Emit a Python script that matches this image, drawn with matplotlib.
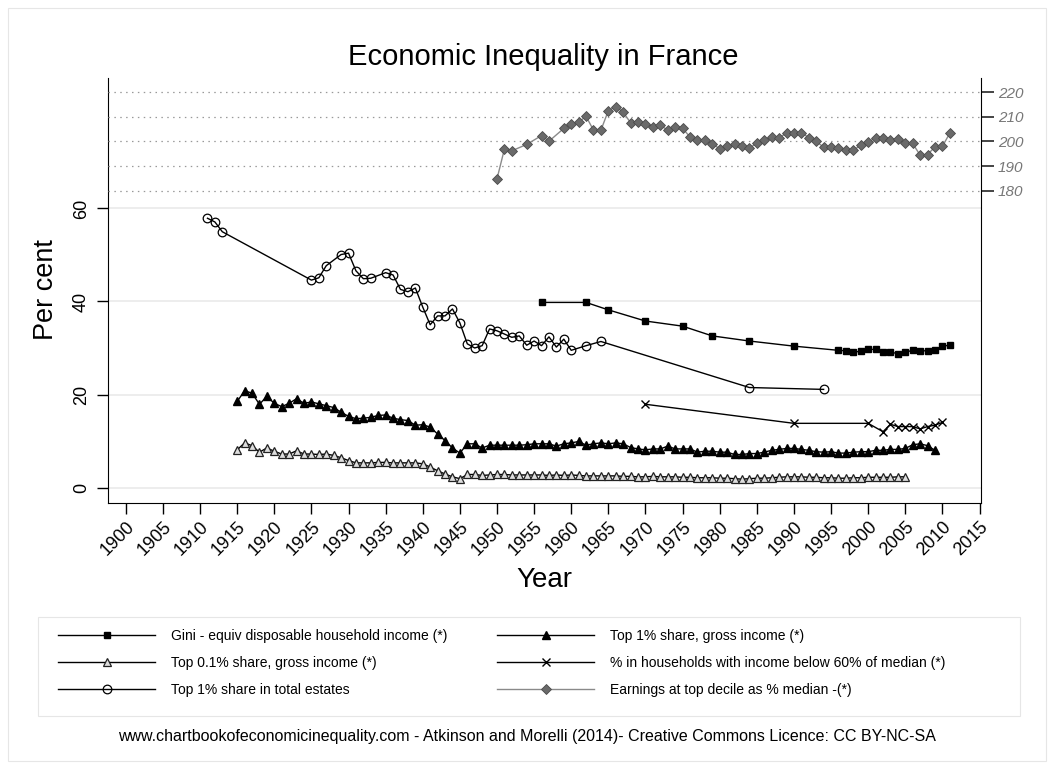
import matplotlib
matplotlib.use('Agg')
import matplotlib.pyplot as plt
from matplotlib.lines import Line2D
from matplotlib.patches import Rectangle

plt.rcParams['font.family'] = ['Liberation Sans', 'DejaVu Sans']

# data
gini_years = [1956, 1962, 1965, 1970, 1975, 1979, 1984, 1990] + list(range(1996, 2012))
gini = [39.8, 39.8, 38.2, 35.8, 34.7, 32.6, 31.5, 30.4,
        29.5, 29.4, 29.1, 29.3, 29.7, 29.7, 29.1, 29.1, 28.8, 29.1, 29.5, 29.4, 29.4, 29.5, 30.4, 30.6]

top1_years = list(range(1915, 2010))
top1 = [18.5, 20.8, 20.3, 17.9, 19.6, 18.1, 17.4, 18.1, 19.1, 18.1, 18.4, 18.0, 17.6, 17.2, 16.2,
        15.3, 14.8, 14.9, 15.1, 15.5, 15.6, 14.9, 14.6, 14.4, 13.4, 13.5, 13.0, 11.5, 10.1, 8.5,
        7.4, 9.4, 9.4,
        8.5, 9.1, 9.1, 9.1, 9.1, 9.1, 9.2, 9.4, 9.4, 9.4, 8.9, 9.4, 9.6, 9.9, 9.1, 9.4, 9.6, 9.4,
        9.6, 9.4, 8.6, 8.3, 8.1, 8.3, 8.3, 8.9, 8.3, 8.3, 8.3, 7.6, 7.8, 7.8, 7.6, 7.6, 7.1, 7.1,
        7.3, 7.3,
        7.6, 8.0, 8.2, 8.4, 8.4, 8.2, 8.0, 7.7, 7.6, 7.7, 7.4, 7.4, 7.6, 7.7, 7.7, 8.0, 8.0, 8.2,
        8.2, 8.4, 9.2, 9.4, 9.0, 8.0]

top01_years = list(range(1915, 2006))
top01 = [8.1, 9.6, 9.0, 7.6, 8.5, 7.8, 7.2, 7.2, 7.9, 7.2, 7.2, 7.1, 7.2, 6.9, 6.4, 5.8, 5.3,
         5.3, 5.3, 5.4, 5.4, 5.3, 5.3, 5.3, 5.3, 5.1, 4.4, 3.6, 2.9, 2.3, 1.9, 2.8, 2.8,
         2.6, 2.7, 2.8, 2.8, 2.7, 2.7, 2.7, 2.7, 2.7, 2.6, 2.7, 2.6, 2.7,
         2.6, 2.5, 2.5, 2.5, 2.5, 2.5, 2.4, 2.4, 2.3, 2.3, 2.4, 2.3, 2.3, 2.3, 2.2,
         2.2, 2.1, 2.1, 2.1, 2.0, 2.0, 1.9, 1.8, 1.9, 2.0,
         2.0, 2.1, 2.2, 2.3, 2.3, 2.3, 2.2, 2.2, 2.1, 2.1, 2.0, 2.0, 2.1, 2.1, 2.2, 2.2, 2.2,
         2.2, 2.3, 2.3]

pov_years = [1970, 1990, 2000, 2002, 2003, 2004, 2005, 2006, 2007, 2008, 2009, 2010]
pov = [17.9, 13.8, 13.8, 12.0, 13.6, 13.1, 13.1, 13.1, 12.6, 13.1, 13.4, 14.0]

estate_years = [1911, 1912, 1913, 1925, 1926, 1927, 1929, 1930, 1931, 1932, 1933, 1935, 1936,
                1937, 1938, 1939, 1940, 1941, 1942, 1943, 1944, 1945, 1946, 1947, 1948, 1949,
                1950, 1951, 1952, 1953, 1954, 1955, 1956, 1957, 1958, 1959, 1960, 1962, 1964,
                1984, 1994]
estate = [57.9, 57.1, 55.0, 44.6, 45.1, 47.7, 50.1, 50.4, 46.6, 44.9, 45.0, 46.2, 45.7,
          42.6, 42.1, 42.9, 38.8, 35.0, 36.9, 36.9, 38.4, 35.4, 30.9, 30.0, 30.5, 34.1,
          33.7, 33.0, 32.3, 32.6, 30.6, 31.5, 30.5, 32.4, 30.2, 31.9, 29.5, 30.5, 31.4,
          21.5, 21.1]

earn_years = [1950, 1951, 1952, 1954, 1956, 1957] + list(range(1959, 2012))
earn = [184.8, 196.9, 196.2, 198.8, 202.4, 200.1,
        205.3, 207.1, 207.9, 210.2, 204.6, 204.6, 212.5, 214.2, 211.9, 207.6, 208.1, 207.3,
        206.0, 206.6, 204.6, 205.8, 205.4, 201.8, 200.5, 200.7, 198.9, 197.1,
        198.0, 198.9, 198.2, 197.4, 199.2, 200.4, 201.8, 201.6, 203.3, 203.4, 203.5, 201.6,
        200.0, 197.7, 197.7, 197.3, 196.5, 196.5, 198.4, 199.6, 201.6, 201.6, 200.7, 201.1,
        199.2, 199.2, 194.4, 194.7, 197.8, 198.0, 203.4]

labels = ['Gini - equiv disposable household income (*)',
          'Top 1% share, gross income (*)',
          'Top 0.1% share, gross income (*)',
          '% in households with income below 60% of median (*)',
          'Top 1% share in total estates',
          'Earnings at top decile as % median -(*)']

W, H = 1054, 769
fig = plt.figure(figsize=(W / 100, H / 100), dpi=100)
fig.patches.append(Rectangle((8 / W, 8 / H), 1 - 16 / W, 1 - 16 / H, transform=fig.transFigure,
                             fill=False, edgecolor='#e6e6e6', lw=0.8))
# legend box
fig.patches.append(Rectangle((38 / W, 1 - 716 / H), (1020 - 38) / W, (716 - 617) / H,
                             transform=fig.transFigure, fill=False, edgecolor='#e6e6e6', lw=0.8))

ax = fig.add_axes([108 / W, 1 - 503 / H, (981 - 108) / W, (503 - 78) / H])
ax2 = ax.twinx()

st = dict(lw=1.0, color='black')
s_gini = dict(marker='s', ms=4.6, mfc='black', mec='black', **st)
s_top1 = dict(marker='^', ms=5.6, mfc='black', mec='black', **st)
s_top01 = dict(marker='^', ms=5.6, mfc='#dddddd', mec='#222222', mew=0.9, **st)
s_pov = dict(marker='x', ms=6, mec='black', mew=1.0, **st)
s_est = dict(marker='o', ms=6.2, mfc='none', mec='black', mew=0.9, **st)
s_earn = dict(marker='D', ms=5.2, mfc='#6a6a6a', mec='#4a4a4a', mew=0.6, lw=1.0, color='#8a8a8a')

ax.plot(gini_years, gini, **s_gini, zorder=3)
ax.plot(top1_years, top1, **s_top1, zorder=3)
ax.plot(top01_years, top01, **s_top01, zorder=3)
ax.plot(pov_years, pov, **s_pov, zorder=3)
ax.plot(estate_years, estate, **s_est, zorder=3)
ax2.plot(earn_years, earn, **s_earn, zorder=3)

ax.set_xlim(1897.6, 2015.2)
ax.set_ylim(-3.33, 88.06)
ax2.set_ylim(53.05, 225.8)

ax.set_yticks([0, 20, 40, 60])
ax.set_yticklabels(['0', '20', '40', '60'], rotation=90, va='center', fontsize=13)
ax.yaxis.grid(True, color='#eaeaea', lw=1.2)
ax.set_axisbelow(True)
ax.tick_params(axis='y', length=8, width=1, pad=5)
ax.set_xticks(range(1900, 2016, 5))
ax.set_xticklabels([str(y) for y in range(1900, 2016, 5)], rotation=45, ha='right',
                   rotation_mode='anchor', fontsize=13)
ax.tick_params(axis='x', length=8, width=1, pad=3)

ax2.set_yticks([180, 190, 200, 210, 220])
ax2.set_yticklabels(['180', '190', '200', '210', '220'], fontsize=11, color='#777777',
                    style='italic')
ax2.tick_params(axis='y', length=9, width=1.4, color='#444444', pad=3)
ax2.yaxis.grid(True, color='#999999', lw=0.9, linestyle=(0, (1.2, 3.5)))

for a in (ax, ax2):
    a.spines['top'].set_visible(False)
ax.spines['right'].set_visible(False)
ax2.spines['left'].set_visible(False)
ax2.spines['bottom'].set_visible(False)

fig.text(543 / W, 1 - 57 / H, 'Economic Inequality in France', ha='center', va='center', fontsize=21)
fig.text(46 / W, 1 - 290 / H, 'Per cent', ha='center', va='center', rotation=90, fontsize=19.5)
fig.text(544 / W, 1 - 580 / H, 'Year', ha='center', va='center', fontsize=20)

handles = [Line2D([], [], **s_gini), Line2D([], [], **s_top01), Line2D([], [], **s_est),
           Line2D([], [], **s_top1), Line2D([], [], **s_pov), Line2D([], [], **s_earn)]
leg_labels = [labels[0], labels[2], labels[4], labels[1], labels[3], labels[5]]
leg = fig.legend(handles, leg_labels, ncol=2, loc='upper left',
                 bbox_to_anchor=(45 / W, 1 - 616 / H),
                 fontsize=10, handlelength=7.0, handletextpad=1.1, labelspacing=0.92,
                 columnspacing=3.6, borderpad=0.95, borderaxespad=0, frameon=False)

fig.text(527 / W, 1 - 736 / H,
         'www.chartbookofeconomicinequality.com - Atkinson and Morelli (2014)- Creative Commons Licence: CC BY-NC-SA',
         ha='center', va='center', fontsize=11.5)

fig.savefig('out.png', dpi=100)
